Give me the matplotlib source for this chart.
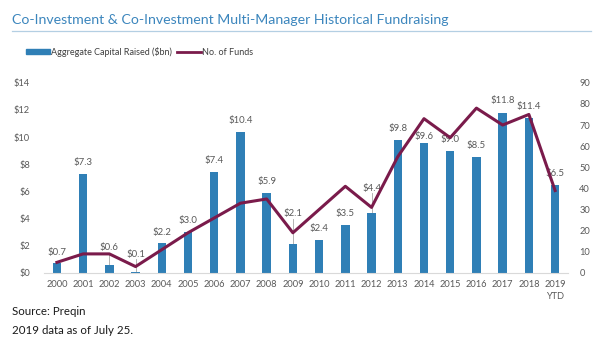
import matplotlib.pyplot as plt
from matplotlib.lines import Line2D
from matplotlib.patches import Patch

plt.rcParams['font.family'] = ['Lato', 'DejaVu Sans']

years = ['2000', '2001', '2002', '2003', '2004', '2005', '2006', '2007', '2008', '2009',
         '2010', '2011', '2012', '2013', '2014', '2015', '2016', '2017', '2018', '2019\nYTD']
capital = [0.7, 7.3, 0.6, 0.1, 2.2, 3.0, 7.4, 10.4, 5.9, 2.1,
           2.4, 3.5, 4.4, 9.8, 9.6, 9.0, 8.5, 11.8, 11.4, 6.5]
funds = [5, 9, 9, 3, 11, 19, 26, 33, 35, 19,
         30, 41, 31, 55, 73, 64, 78, 70, 75, 39]

# how far above each bar its value label sits ($bn)
label_lift = [0.8, 0.85, 1.25, 1.25, 0.8, 0.85, 0.85, 0.85, 0.8, 2.25,
              0.85, 0.85, 1.85, 0.85, 0.45, 0.8, 0.85, 0.9, 0.85, 0.8]
leaders = [2, 3, 9, 12]

bar_color = '#2f7fb6'
line_color = '#7a1b4b'
text_grey = '#595959'

fig = plt.figure(figsize=(6, 3.42), dpi=100)
ax = fig.add_axes([0.073, 0.202, 0.874, 0.556])
ax2 = ax.twinx()

x = list(range(len(years)))
ax.bar(x, capital, width=0.32, color=bar_color, zorder=2)
ax2.plot(x, funds, color=line_color, lw=2.2, zorder=3)

for i, v in enumerate(capital):
    ly = v + label_lift[i]
    ax.text(i, ly, f'${v:.1f}', ha='center', va='center', fontsize=6.9,
            color=text_grey, zorder=4)
    if i in leaders:
        ax.plot([i, i], [v, ly - 0.35], color='#a6a6a6', lw=0.6, zorder=1)

ax.set_xlim(-0.5, len(years) - 0.5)
ax.set_ylim(0, 14)
ax.set_yticks(range(0, 15, 2))
ax.set_yticklabels([f'${t}' for t in range(0, 15, 2)])
ax.set_xticks(x)
ax.set_xticklabels(years, linespacing=1.5)
ax2.set_ylim(0, 90)
ax2.set_yticks(range(0, 91, 10))

for a in (ax, ax2):
    for s in a.spines.values():
        s.set_visible(False)
    a.tick_params(length=0, labelsize=6.7, labelcolor=text_grey)
ax.spines['bottom'].set_visible(True)
ax.spines['bottom'].set_color('#d9d9d9')
ax.tick_params(axis='y', pad=10)
ax.tick_params(axis='x', pad=5)
ax2.tick_params(axis='y', pad=8)

# title and rule
fig.text(0.02, 0.942, 'Co-Investment & Co-Investment Multi-Manager Historical Fundraising',
         fontsize=10.2, color='#3c86bd', va='center')
fig.add_artist(Line2D([0.02, 0.985], [0.91, 0.91], color='#b4cfe3', lw=0.9))

handles = [Patch(color=bar_color), Line2D([], [], color=line_color, lw=2)]
fig.legend(handles, ['Aggregate Capital Raised ($bn)', 'No. of Funds'],
           loc='center left', bbox_to_anchor=(0.03, 0.848), ncol=2, frameon=False,
           fontsize=6.5, handlelength=2.6, handleheight=0.5, handletextpad=0.15,
           columnspacing=0.6, labelcolor='#404040')

fig.text(0.02, 0.088, 'Source: Preqin', fontsize=8.3, color='#1a1a1a', va='center')
fig.text(0.02, 0.035, '2019 data as of July 25.', fontsize=8.3, color='#1a1a1a', va='center')

fig.savefig('out.png', dpi=100)
